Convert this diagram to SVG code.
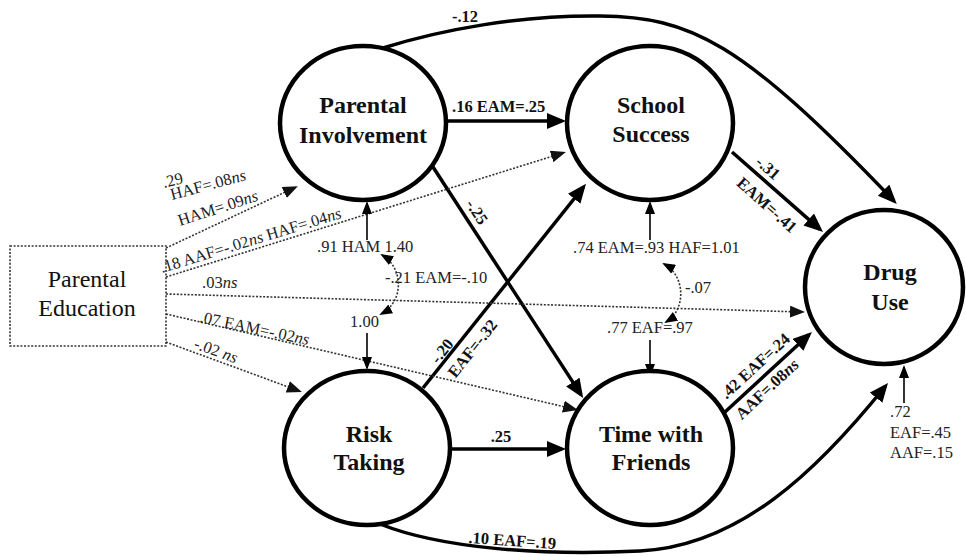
<svg xmlns="http://www.w3.org/2000/svg" width="966" height="557" viewBox="0 0 966 557">
<style>
.node ellipse{fill:#fff;stroke:#000;stroke-width:4.5}
text{font-family:"Liberation Serif",serif}
.nl{font-weight:bold;font-size:24px;text-anchor:middle;fill:#111}
.pe{font-size:24px;text-anchor:middle;fill:#111}
.b{font-weight:bold;font-size:16.5px;fill:#111}
.r{font-size:16.5px;fill:#222}
.m{text-anchor:middle}
.solid{fill:none;stroke:#000;stroke-width:3.5;marker-end:url(#big)}
.dot{fill:none;stroke:#333;stroke-width:1.6;stroke-dasharray:2 1.6;marker-end:url(#sm)}
.res{fill:none;stroke:#000;stroke-width:1.6;marker-end:url(#md)}
.dbl{fill:none;stroke:#333;stroke-width:1.6;stroke-dasharray:2 1.6;marker-start:url(#md);marker-end:url(#md)}
</style>
<defs>
<marker id="big" markerUnits="userSpaceOnUse" markerWidth="20" markerHeight="18" refX="15" refY="8" orient="auto-start-reverse"><path d="M0,0 L19,8 L0,16 z" fill="#000"/></marker>
<marker id="sm" markerUnits="userSpaceOnUse" markerWidth="16" markerHeight="12" refX="13" refY="6" orient="auto-start-reverse"><path d="M0,0 L15,6 L0,12 z" fill="#111"/></marker>
<marker id="md" markerUnits="userSpaceOnUse" markerWidth="14" markerHeight="10" refX="11" refY="5" orient="auto-start-reverse"><path d="M0,0 L13,5 L0,10 z" fill="#000"/></marker>
</defs>
<rect width="966" height="557" fill="#fff"/>

<g id="connectors">
  <path class="solid" d="M383,48 C440,30 520,15 600,16 C690,17 740,40 894,201"/>
  <path class="solid" d="M447,121 L562,121"/>
  <path class="solid" d="M433,167 L581,394.6"/>
  <path class="solid" d="M423,388 L583.5,187"/>
  <path class="solid" d="M450,449 L562,449"/>
  <path class="solid" d="M380,524 C440,548 540,556 640,551 C740,546 818,470 885.5,386"/>
  <path class="solid" d="M732,152 L820,229.4"/>
  <path class="solid" d="M725,412 L809,334.7"/>

  <path class="dot" d="M166,248 L296,187"/>
  <path class="dot" d="M166,277 L564,152.6"/>
  <path class="dot" d="M166,294 L803,312"/>
  <path class="dot" d="M166,314 L576,409.5"/>
  <path class="dot" d="M166,342 L300,391.3"/>

  <path class="res" d="M367,240 L367,203"/>
  <path class="res" d="M367,333 L367,368"/>
  <path class="res" d="M650,240 L650,203"/>
  <path class="res" d="M650,340 L650,375"/>
  <path class="res" d="M904,403 L904,367"/>

  <path class="dbl" d="M382,255 C404,268 404,302 381,314"/>
  <path class="dbl" d="M664,264 C686,276 686,310 666,322"/>

  <text class="b" x="452" y="22">-.12</text>
  <text class="b" x="452" y="112">.16 EAM=.25</text>
  <text class="b m" x="501" y="442">.25</text>
  <text class="b m" transform="translate(512,546) rotate(4)">.10 EAF=.19</text>
  <text class="b m" transform="translate(477,212) rotate(57)" y="5.5">-.25</text>
  <text class="b m" transform="translate(442,351) rotate(-51.4)" y="5.5">-.20</text>
  <text class="b m" transform="translate(472.5,348.5) rotate(-51.4)" y="5.5">EAF=-.32</text>
  <text class="b m" transform="translate(768,168) rotate(41.6)" y="5.5">-.31</text>
  <text class="b m" transform="translate(767,205) rotate(41.6)" y="5.5">EAM=-.41</text>
  <text class="b m" transform="translate(755,366) rotate(-42.6)" y="5.5">.42 EAF=.24</text>
  <text class="b m" transform="translate(767,389) rotate(-43)" y="5.5">AAF=.08<tspan font-style="italic">ns</tspan></text>

  <text class="r" transform="translate(164,188) rotate(-14)">.29</text>
  <text class="r" transform="translate(172,200) rotate(-15)">HAF=.08<tspan font-style="italic">ns</tspan></text>
  <text class="r" transform="translate(180,226) rotate(-18)">HAM=.09<tspan font-style="italic">ns</tspan></text>
  <text class="r" transform="translate(162,273) rotate(-17)">.18 AAF=-.02<tspan font-style="italic">ns</tspan> HAF=.04<tspan font-style="italic">ns</tspan></text>
  <text class="r" x="202" y="288">.03<tspan font-style="italic">ns</tspan></text>
  <text class="r" transform="translate(199,322) rotate(12)">.07 EAM=-.02<tspan font-style="italic">ns</tspan></text>
  <text class="r" transform="translate(193,348) rotate(20)">-.02 <tspan font-style="italic">ns</tspan></text>

  <text class="r" x="317" y="252">.91 HAM 1.40</text>
  <text class="r" x="385" y="283">-.21 EAM=-.10</text>
  <text class="r" x="350" y="327">1.00</text>
  <text class="r" x="573" y="253">.74 EAM=.93 HAF=1.01</text>
  <text class="r" x="685" y="293">-.07</text>
  <text class="r" x="607" y="333">.77 EAF=.97</text>
  <text class="r" x="890" y="417">.72</text>
  <text class="r" x="890" y="438">EAF=.45</text>
  <text class="r" x="890" y="458">AAF=.15</text>
</g>

<g id="parental-education">
  <rect x="10" y="246" width="156" height="100" fill="none" stroke="#333" stroke-width="1.6" stroke-dasharray="2 1.6"/>
  <text class="pe" x="87" y="287">Parental</text>
  <text class="pe" x="87" y="316">Education</text>
</g>
<g id="parental-involvement" class="node">
  <ellipse cx="363" cy="123" rx="83" ry="77"/>
  <text class="nl" x="363" y="113">Parental</text>
  <text class="nl" x="363" y="143">Involvement</text>
</g>
<g id="school-success" class="node">
  <ellipse cx="650" cy="123" rx="83" ry="77"/>
  <text class="nl" x="651" y="113">School</text>
  <text class="nl" x="651" y="142">Success</text>
</g>
<g id="drug-use" class="node">
  <ellipse cx="884" cy="287" rx="79" ry="77"/>
  <text class="nl" x="890" y="280">Drug</text>
  <text class="nl" x="890" y="310">Use</text>
</g>
<g id="risk-taking" class="node">
  <ellipse cx="367" cy="448" rx="83" ry="77"/>
  <text class="nl" x="369" y="442">Risk</text>
  <text class="nl" x="369" y="470">Taking</text>
</g>
<g id="time-with-friends" class="node">
  <ellipse cx="650" cy="448" rx="83" ry="77"/>
  <text class="nl" x="651" y="442">Time with</text>
  <text class="nl" x="651" y="470">Friends</text>
</g>
</svg>
